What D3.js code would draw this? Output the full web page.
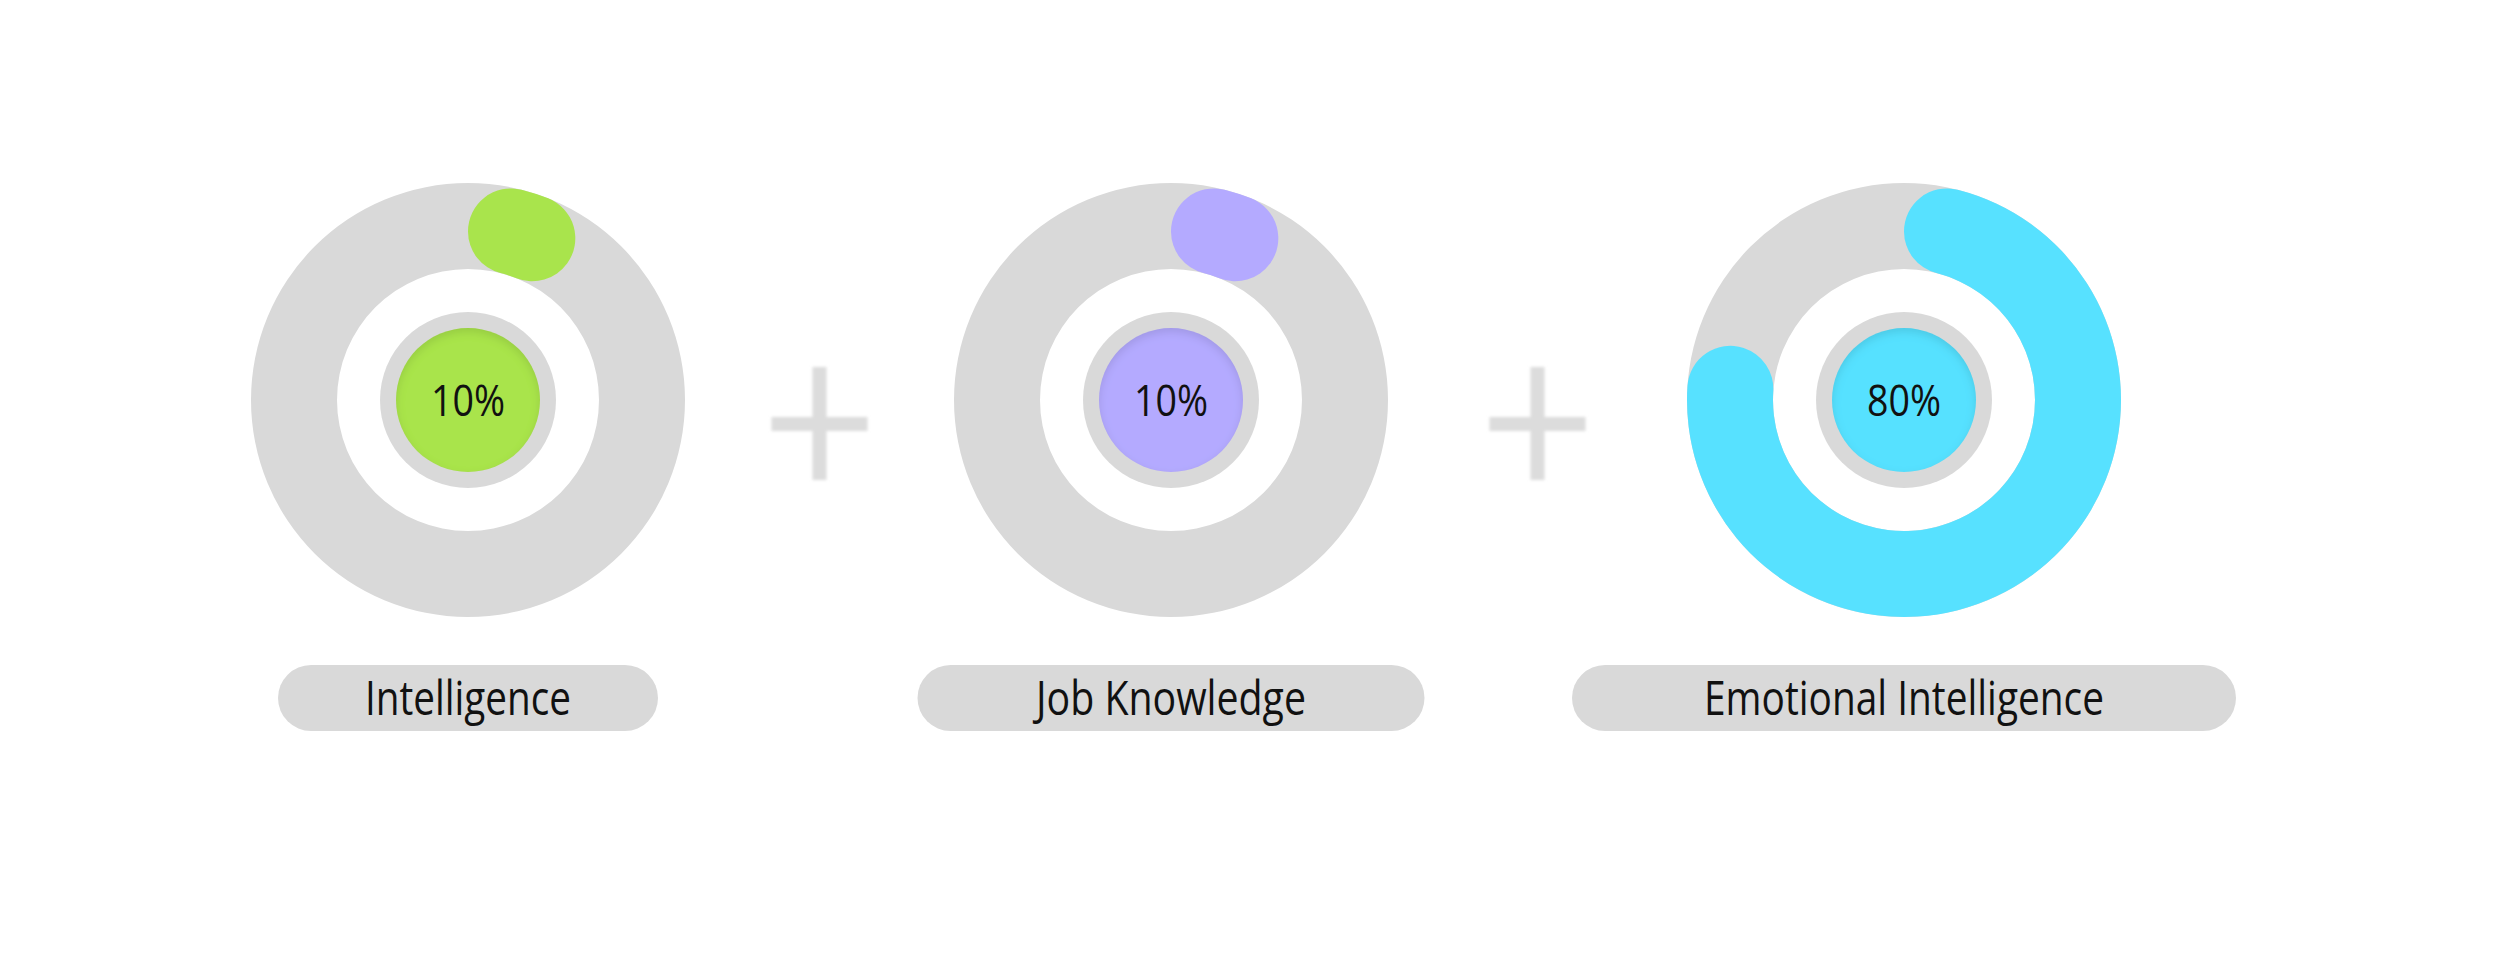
<!DOCTYPE html>
<html>
<head>
<meta charset="utf-8">
<script src="https://cdn.jsdelivr.net/npm/d3@7"></script>
<style>
  html, body { margin: 0; padding: 0; background: #fff; }
  svg { display: block; }
</style>
</head>
<body>
<div id="chart"></div>
<script>
// data
const categories = ["Intelligence", "Job Knowledge", "Emotional Intelligence"];
const percents = [10, 10, 80];
const colors = ["#a9e44c", "#b4aaff", "#57e1ff"];

const W = 2500, H = 978;
const cy = 400;

// layout of the three rings and their name pills
const ringX = d3.scaleOrdinal().domain(categories).range([468, 1171, 1904]);
const pillW = d3.scaleOrdinal().domain(categories).range([380, 507, 664]);
const textW = d3.scaleOrdinal().domain(categories).range([206, 270, 400]);

const angle = d3.scaleLinear().domain([0, 100]).range([0, 2 * Math.PI]);

const rOuter = 217, rInner = 131;
const track = d3.arc().innerRadius(rInner).outerRadius(rOuter).startAngle(0).endAngle(2 * Math.PI);
const progress = d3.arc().innerRadius(rInner).outerRadius(rOuter)
  .cornerRadius((rOuter - rInner) / 2)
  .startAngle(0);

const svg = d3.select("#chart").append("svg")
  .attr("width", W)
  .attr("height", H);

const defs = svg.append("defs");

// inner shadow for the center discs
const inner = defs.append("filter").attr("id", "innerShadow")
  .attr("x", "-20%").attr("y", "-20%").attr("width", "140%").attr("height", "140%");
inner.append("feOffset").attr("in", "SourceAlpha").attr("dx", 0).attr("dy", 4).attr("result", "off");
inner.append("feGaussianBlur").attr("in", "off").attr("stdDeviation", 4).attr("result", "blur");
inner.append("feComposite").attr("in", "SourceAlpha").attr("in2", "blur").attr("operator", "out").attr("result", "inv");
inner.append("feFlood").attr("flood-color", "#000").attr("flood-opacity", 0.22);
inner.append("feComposite").attr("in2", "inv").attr("operator", "in").attr("result", "shadow");
const mrg = inner.append("feMerge");
mrg.append("feMergeNode").attr("in", "SourceGraphic");
mrg.append("feMergeNode").attr("in", "shadow");

const soft = defs.append("filter").attr("id", "soft")
  .attr("x", "-20%").attr("y", "-20%").attr("width", "140%").attr("height", "140%");
soft.append("feGaussianBlur").attr("stdDeviation", 1.5);

const rings = svg.selectAll("g.ring")
  .data(categories)
  .enter().append("g")
    .attr("class", "ring")
    .attr("transform", d => `translate(${ringX(d)},${cy})`);

rings.append("path")
  .attr("d", track())
  .attr("fill", "#d9d9d9");

rings.append("path")
  .attr("d", (d, i) => progress({ endAngle: angle(percents[i]) }))
  .attr("fill", (d, i) => colors[i]);

rings.append("circle")
  .attr("r", 88)
  .attr("fill", "#d9d9d9");

rings.append("circle")
  .attr("r", 72)
  .attr("fill", (d, i) => colors[i])
  .attr("filter", "url(#innerShadow)");

rings.append("text")
  .attr("y", 0)
  .attr("dy", "0.36em")
  .attr("text-anchor", "middle")
  .attr("font-family", "'Open Sans', sans-serif")
  .attr("font-size", 44)
  .attr("fill", "#111")
  .attr("textLength", 74)
  .attr("lengthAdjust", "spacingAndGlyphs")
  .text((d, i) => percents[i] + "%");

// plus signs between rings
const plusX = d3.pairs(categories).map(p => (ringX(p[0]) + rOuter + ringX(p[1]) - rOuter) / 2);
const plus = svg.selectAll("g.plus")
  .data(plusX)
  .enter().append("g")
    .attr("class", "plus")
    .attr("transform", d => `translate(${d},424)`)
    .attr("filter", "url(#soft)")
    .attr("stroke", "#dcdcdc")
    .attr("stroke-width", 14);
plus.append("line").attr("x1", -48).attr("x2", 48).attr("y1", 0).attr("y2", 0);
plus.append("line").attr("x1", 0).attr("x2", 0).attr("y1", -57).attr("y2", 56);

// name pills
const pills = svg.selectAll("g.pill")
  .data(categories)
  .enter().append("g")
    .attr("class", "pill")
    .attr("transform", d => `translate(${ringX(d)},698)`);

pills.append("rect")
  .attr("x", d => -pillW(d) / 2)
  .attr("y", -33)
  .attr("width", d => pillW(d))
  .attr("height", 66)
  .attr("rx", 33)
  .attr("fill", "#d9d9d9");

pills.append("text")
  .attr("text-anchor", "middle")
  .attr("y", 17)
  .attr("font-family", "'Open Sans', sans-serif")
  .attr("font-size", 48)
  .attr("fill", "#111")
  .attr("textLength", d => textW(d))
  .attr("lengthAdjust", "spacingAndGlyphs")
  .text(d => d);
</script>
</body>
</html>
